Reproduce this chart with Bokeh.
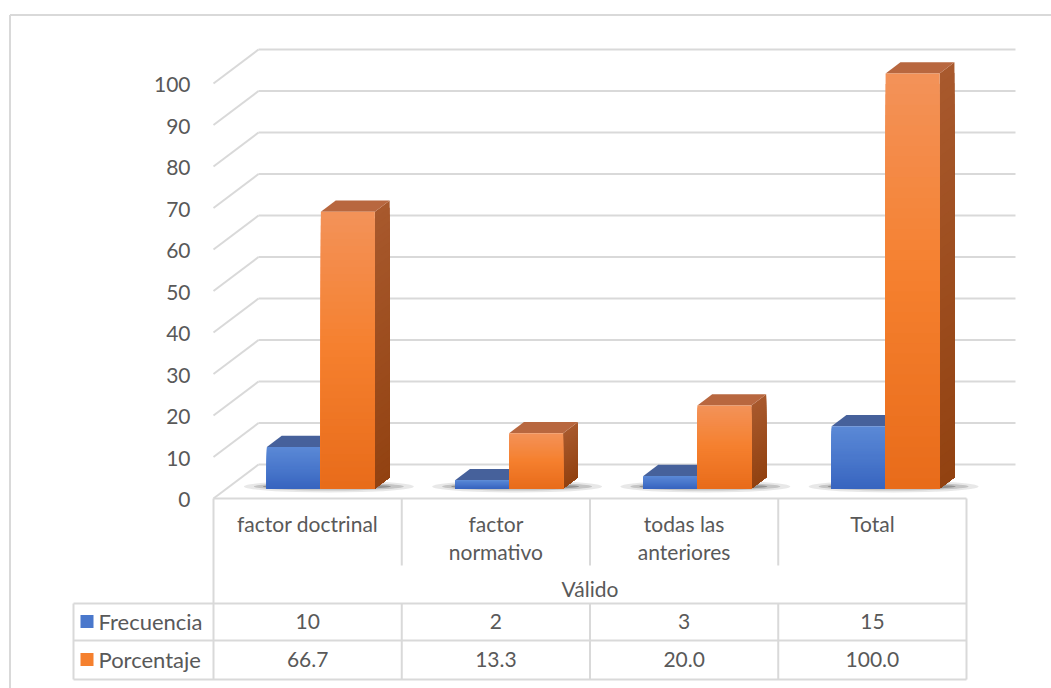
from bokeh.plotting import figure
from bokeh.models import Range1d
from bokeh.embed import file_html
from bokeh.resources import INLINE
from bokeh.core.properties import value

# ---------------- data ----------------
categories = ["factor doctrinal", "factor\nnormativo", "todas las\nanteriores", "Total"]
group_label = "Válido"
series_names = ["Frecuencia", "Porcentaje"]
frecuencia = [10, 2, 3, 15]
porcentaje = [66.7, 13.3, 20.0, 100.0]
frecuencia_labels = ["10", "2", "3", "15"]
porcentaje_labels = ["66.7", "13.3", "20.0", "100.0"]
y_ticks = [0, 10, 20, 30, 40, 50, 60, 70, 80, 90, 100]

# ---------------- layout / style ----------------
W, H = 1051, 688
PX_CAT = 188.25      # pixels per category
PX_VAL = 4.15        # pixels per value unit
ORIGIN_X, ORIGIN_Y = 213, 498   # figure pixel position of (0, 0)

def dx(px):
    return px / PX_CAT

def dy(px):
    return px / PX_VAL

FONT = value("Lato")
TXT = "#595959"
GRID = "#d9d9d9"
FS = "21px"

x0 = -dx(ORIGIN_X)
y1 = dy(ORIGIN_Y)
xmax = x0 + dx(W)
ymin = y1 - dy(H)
p = figure(width=W, height=H, output_backend="svg", toolbar_location=None,
           x_range=Range1d(x0, xmax), y_range=Range1d(ymin, y1),
           min_border=0, outline_line_color=None, background_fill_color="white",
           border_fill_color="white")
p.xaxis.visible = False
p.yaxis.visible = False
p.xgrid.visible = False
p.ygrid.visible = False

n = len(categories)
DX, DY = dx(45), dy(34)          # depth of the 3-D floor
BW = dx(54)                      # bar width
F = 0.294                        # bar front depth fraction
BD = 0.33                        # bar depth fraction
FX, FY = F * DX, F * DY
BX, BY = BD * DX, BD * DY

# outer chart border (left and top)
bx, by = x0 + dx(9.5), y1 - dy(14.5)
p.segment(x0=[bx, bx], y0=[by, by], x1=[bx, xmax + 1], y1=[ymin - 5, by],
          line_color=GRID, line_width=2)

# back wall gridlines and side wall diagonals
right_end = n + DX + dx(4)
p.segment(x0=[DX] * len(y_ticks), y0=[v + DY for v in y_ticks],
          x1=[right_end] * len(y_ticks), y1=[v + DY for v in y_ticks],
          line_color=GRID, line_width=2)
p.segment(x0=[0] * len(y_ticks), y0=y_ticks,
          x1=[DX] * len(y_ticks), y1=[v + DY for v in y_ticks],
          line_color=GRID, line_width=2)

# y tick labels
p.text(x=[dx(-23)] * len(y_ticks), y=[v - dy(1) for v in y_ticks], text=[str(v) for v in y_ticks],
       text_align="right", text_baseline="middle", text_font=FONT,
       text_font_size="21px", text_color=TXT)


def hex2rgb(h):
    h = h.lstrip("#")
    return tuple(int(h[k:k + 2], 16) for k in (0, 2, 4))


def grad(stops, t):
    # stops: list of (pos, hex) ; t in [0,1] from top (0) to bottom (1)
    for (p0, c0), (p1, c1) in zip(stops[:-1], stops[1:]):
        if p0 <= t <= p1:
            u = (t - p0) / (p1 - p0) if p1 > p0 else 0
            a, b = hex2rgb(c0), hex2rgb(c1)
            return "#%02x%02x%02x" % tuple(int(round(a[k] + (b[k] - a[k]) * u)) for k in range(3))
    return stops[-1][1]


# shadows under bar pairs
for (wd, ht, a, off) in [(dx(170), dy(12), 0.10, dx(8)), (dx(150), dy(8), 0.18, dx(8)), (dx(128), dy(5), 0.30, dx(6))]:
    p.ellipse(x=[i + 0.5 + FX + off for i in range(n)], y=[FY + dy(2)] * n,
              width=wd, height=ht, fill_color="#202020", fill_alpha=a, line_color=None)

front_grad = [[(0, "#5b89d6"), (0.5, "#4a78cc"), (1, "#3865bf")],
              [(0, "#f39259"), (0.5, "#f5802e"), (1, "#e86b1a")]]
side_grad = [[(0, "#3a5a98"), (1, "#2a4a86")],
             [(0, "#a8592d"), (1, "#924211")]]
top_cols = ["#46619b", "#b8673f"]
series = [frecuencia, porcentaje]
NS = 40

for i in range(n):
    for s, vals in enumerate(series):
        v = vals[i]
        L = i + 0.5 + (s - 1) * BW + FX
        R = L + BW
        B = FY
        T = FY + v
        # side face: overlapping gradient bands (each reaches the bottom)
        sx, sy, sc = [], [], []
        for k in range(NS):
            ta = T - v * k / NS
            sx.append([R, R + BX, R + BX, R])
            sy.append([B, B + BY, ta + BY, ta])
            sc.append(grad(side_grad[s], (k + 0.5) / NS))
        p.patches(xs=sx, ys=sy, fill_color=sc, line_color=None)
        # top face
        p.patch(x=[L, R, R + BX, L + BX], y=[T, T, T + BY, T + BY],
                fill_color=top_cols[s], line_color=None)
        # front face: overlapping gradient bands (each reaches the bottom)
        tops = [T - v * k / NS for k in range(NS)]
        cols = [grad(front_grad[s], (k + 0.5) / NS) for k in range(NS)]
        p.quad(left=[L] * NS, right=[R] * NS, bottom=[B] * NS, top=tops,
               fill_color=cols, line_color=None)

# ---------------- data table ----------------
row_lbl_x = -dx(140)
y_sep_top = 0
y_cat_bottom = -dy(67)
y_row1 = -dy(105)
y_row2 = -dy(142)
y_row3 = -dy(181)

seg_x0, seg_y0, seg_x1, seg_y1 = [], [], [], []
def seg(a, b, c, d):
    seg_x0.append(a); seg_y0.append(b); seg_x1.append(c); seg_y1.append(d)

seg(0, y_sep_top, n, y_sep_top)
for yy in (y_row1, y_row2, y_row3):
    seg(row_lbl_x, yy, n, yy)
seg(0, y_sep_top, 0, y_row3)
seg(n, y_sep_top, n, y_row3)
seg(row_lbl_x, y_row1, row_lbl_x, y_row3)
for i in range(1, n):
    seg(i, y_sep_top, i, y_cat_bottom)
    seg(i, y_row1, i, y_row3)
p.segment(x0=seg_x0, y0=seg_y0, x1=seg_x1, y1=seg_y1, line_color=GRID, line_width=2)

# category labels
lx, ly, lt = [], [], []
for i, c in enumerate(categories):
    for j, line in enumerate(c.split("\n")):
        lx.append(i + 0.5)
        ly.append(-dy(25) - j * dy(28))
        lt.append(line)
p.text(x=lx, y=ly, text=lt, text_align="center", text_baseline="middle",
       text_font=FONT, text_font_size=FS, text_color=TXT)
p.text(x=[n / 2], y=[-dy(90)], text=[group_label], text_align="center",
       text_baseline="middle", text_font=FONT, text_font_size=FS, text_color=TXT)

# value rows
row_centers = [-dy(123), -dy(161)]
row_texts = [frecuencia_labels, porcentaje_labels]
for r in range(2):
    p.text(x=[i + 0.5 for i in range(n)], y=[row_centers[r]] * n, text=row_texts[r],
           text_align="center", text_baseline="middle", text_font=FONT,
           text_font_size=FS, text_color=TXT)
    p.scatter(x=[row_lbl_x + dx(13.5)], y=[row_centers[r]], marker="square", size=13,
              fill_color=front_grad[r][1][1], line_color=None)
    p.text(x=[row_lbl_x + dx(25)], y=[row_centers[r]], text=[series_names[r]],
           text_align="left", text_baseline="middle", text_font=FONT,
           text_font_size="22px", text_color=TXT)

open("out.html", "w").write(file_html(p, INLINE))
